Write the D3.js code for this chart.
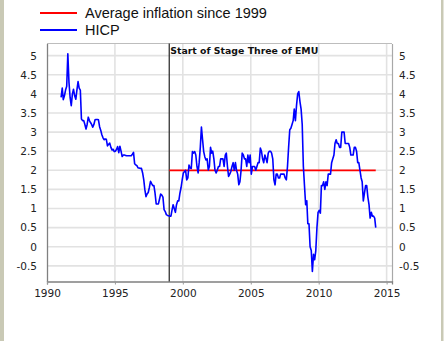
<!DOCTYPE html>
<html>
<head>
<meta charset="utf-8">
<script src="https://cdn.jsdelivr.net/npm/d3@7/dist/d3.min.js"></script>
<style>
  html, body { margin: 0; padding: 0; background: #fff; }
  svg { display: block; }
</style>
</head>
<body>
<svg id="chart" width="447" height="341"></svg>
<script>
// Euro area HICP, annual rate of change (%), monthly from January 1991
const hicpFirstMonth = [1991, 0];
const hicp = [
  // 1991
  3.91, 4.15, 3.85, 3.95, 4.10, 4.20, 5.05, 4.30, 3.90, 3.69, 4.00, 4.12,
  // 1992
  3.95, 3.86, 4.10, 4.32, 4.15, 4.10, 3.34, 3.30, 3.30, 3.20, 3.08, 3.20,
  // 1993
  3.39, 3.30, 3.25, 3.20, 3.13, 3.20, 3.32, 3.33, 3.33, 3.32, 3.14, 3.05,
  // 1994
  2.93, 2.85, 2.80, 2.82, 2.81, 2.64, 2.68, 2.71, 2.60, 2.53, 2.55, 2.49,
  // 1995
  2.50, 2.55, 2.62, 2.46, 2.63, 2.50, 2.36, 2.40, 2.40, 2.39, 2.38, 2.38,
  // 1996
  2.38, 2.38, 2.38, 2.42, 2.47, 2.17, 2.14, 2.12, 2.06, 2.06, 2.05, 2.05,
  // 1997
  1.93, 1.75, 1.50, 1.31, 1.38, 1.42, 1.55, 1.71, 1.65, 1.60, 1.60, 1.40,
  // 1998
  1.12, 1.12, 1.12, 1.25, 1.38, 1.35, 1.30, 0.97, 0.92, 0.84, 0.82, 0.81,
  // 1999
  0.80, 0.80, 0.95, 1.10, 1.00, 0.90, 1.10, 1.20, 1.20, 1.40, 1.55, 1.75,
  // 2000
  1.93, 1.97, 2.00, 1.75, 1.80, 2.14, 2.06, 2.05, 2.49, 2.45, 2.49, 2.40,
  // 2001
  2.10, 1.93, 2.20, 2.60, 3.13, 2.80, 2.49, 2.35, 2.27, 2.30, 2.01, 2.10,
  // 2002
  2.60, 2.45, 2.50, 2.30, 2.00, 1.93, 2.00, 2.10, 2.10, 2.30, 2.30, 2.30,
  // 2003
  2.10, 2.40, 2.45, 2.10, 1.84, 1.90, 1.97, 2.10, 2.20, 2.00, 2.20, 2.00,
  // 2004
  1.90, 1.62, 1.70, 2.00, 2.45, 2.40, 2.30, 2.30, 2.10, 2.40, 2.20, 2.40,
  // 2005
  1.90, 2.10, 2.10, 2.10, 2.00, 2.10, 2.20, 2.20, 2.58, 2.50, 2.30, 2.20,
  // 2006
  2.40, 2.30, 2.20, 2.45, 2.50, 2.50, 2.45, 2.30, 1.75, 1.62, 1.90, 1.90,
  // 2007
  1.80, 1.80, 1.90, 1.90, 1.90, 1.90, 1.80, 1.75, 2.10, 2.60, 3.06, 3.10,
  // 2008
  3.20, 3.30, 3.60, 3.30, 3.70, 4.00, 4.06, 3.80, 3.60, 3.20, 2.10, 1.60,
  // 2009
  1.10, 1.20, 0.60, 0.60, 0.00, -0.10, -0.65, -0.20, -0.34, -0.10, 0.50, 0.90,
  // 2010
  0.95, 0.88, 1.60, 1.60, 1.70, 1.50, 1.70, 1.60, 1.90, 1.90, 1.90, 2.20,
  // 2011
  2.30, 2.40, 2.70, 2.80, 2.70, 2.70, 2.60, 2.60, 3.00, 3.00, 3.00, 2.70,
  // 2012
  2.70, 2.70, 2.70, 2.60, 2.40, 2.40, 2.40, 2.60, 2.60, 2.50, 2.20, 2.20,
  // 2013
  2.00, 1.80, 1.70, 1.20, 1.40, 1.60, 1.60, 1.30, 1.10, 0.75, 0.90, 0.80,
  // 2014
  0.80, 0.75, 0.50
];

const averageSince1999 = 2.0;
const emuStartMonth = [1999, 0];
const emuLabel = "Start of Stage Three of EMU";
const legendLabels = ["Average inflation since 1999", "HICP"];
const legendColors = ["#ff0000", "#0000ff"];
const yTicks = [-0.5, 0, 0.5, 1, 1.5, 2, 2.5, 3, 3.5, 4, 4.5, 5];
const xTickYears = [1990, 1995, 2000, 2005, 2010, 2015];

const svg = d3.select("#chart");
const W = 447, H = 341;
const plot = { left: 47, right: 392, top: 43.5, bottom: 281.5 };

// page background and the thin side strips
svg.append("rect").attr("width", W).attr("height", H).attr("fill", "#fff");
svg.append("rect").attr("x", 0).attr("y", 0).attr("width", 4).attr("height", H).attr("fill", "#c9c9b5");
svg.append("rect").attr("x", 441).attr("y", 0).attr("width", 2.5).attr("height", H).attr("fill", "#c9c9b5");

const x = d3.scaleTime()
  .domain([new Date(1990, 0, 1), new Date(2015, 4, 26)])
  .range([plot.left, plot.right]);
const y = d3.scaleLinear()
  .domain([-0.91, 5.318])
  .range([plot.bottom, plot.top]);

const series = hicp.map((v, i) => ({
  date: new Date(hicpFirstMonth[0], hicpFirstMonth[1] + i, 15),
  value: v
}));
const lastDate = series[series.length - 1].date;
const emuDate = new Date(emuStartMonth[0], emuStartMonth[1], 1);

// gridlines
const grid = svg.append("g");
grid.selectAll("line.h").data(yTicks).join("line")
  .attr("x1", plot.left).attr("x2", plot.right)
  .attr("y1", d => y(d)).attr("y2", d => y(d))
  .attr("stroke", "#e2e2e2").attr("stroke-width", 1.6);
grid.selectAll("line.v").data(xTickYears.slice(1)).join("line")
  .attr("x1", d => x(new Date(d, 0, 1))).attr("x2", d => x(new Date(d, 0, 1)))
  .attr("y1", plot.top).attr("y2", plot.bottom)
  .attr("stroke", "#e2e2e2").attr("stroke-width", 1.6);

// frame
svg.append("line").attr("x1", plot.left).attr("x2", plot.right).attr("y1", plot.top).attr("y2", plot.top)
  .attr("stroke", "#bdbdbd").attr("stroke-width", 1.2);

// axes
const tickFont = "DejaVu Sans, Verdana, sans-serif";
const fmt = d => String(d);

const axL = svg.append("g").attr("transform", `translate(${plot.left},0)`)
  .call(d3.axisLeft(y).tickValues(yTicks).tickSize(0).tickPadding(10).tickFormat(fmt));
const axR = svg.append("g").attr("transform", `translate(${plot.right},0)`)
  .call(d3.axisRight(y).tickValues(yTicks).tickSize(0).tickPadding(7).tickFormat(fmt));
const axB = svg.append("g").attr("transform", `translate(0,${plot.bottom})`)
  .call(d3.axisBottom(x).tickValues(xTickYears.map(yr => new Date(yr, 0, 1)))
    .tickSize(3).tickPadding(5).tickFormat(d3.timeFormat("%Y")));

[axL, axR, axB].forEach(g => {
  g.selectAll("text").attr("font-family", tickFont).attr("font-size", 10.5).attr("fill", "#222");
  g.selectAll(".tick line").attr("stroke", "#999");
});
axL.select(".domain").attr("stroke", "#808080").attr("stroke-width", 1.3);
axR.select(".domain").attr("stroke", "#a8a8a8").attr("stroke-width", 1.2);
axB.select(".domain").attr("stroke", "#808080").attr("stroke-width", 1.3);

// Stage Three of EMU marker
svg.append("line")
  .attr("x1", x(emuDate)).attr("x2", x(emuDate))
  .attr("y1", plot.top).attr("y2", plot.bottom)
  .attr("stroke", "#333").attr("stroke-width", 1.3);
svg.append("text")
  .attr("x", x(emuDate) + 1).attr("y", 54)
  .attr("font-family", tickFont).attr("font-size", 9.5).attr("font-weight", "bold")
  .attr("fill", "#111")
  .attr("textLength", 148).attr("lengthAdjust", "spacingAndGlyphs")
  .text(emuLabel);

// average since 1999
svg.append("line")
  .attr("x1", x(emuDate)).attr("x2", x(lastDate))
  .attr("y1", y(averageSince1999)).attr("y2", y(averageSince1999))
  .attr("stroke", legendColors[0]).attr("stroke-width", 1.8);

// HICP series
svg.append("path")
  .datum(series)
  .attr("fill", "none")
  .attr("stroke", legendColors[1])
  .attr("stroke-width", 1.6)
  .attr("stroke-linejoin", "round")
  .attr("d", d3.line().x(d => x(d.date)).y(d => y(d.value)));

// legend
const legend = svg.append("g");
legendLabels.forEach((label, i) => {
  const ly = 13 + i * 17;
  legend.append("line")
    .attr("x1", 40).attr("x2", 77).attr("y1", ly).attr("y2", ly)
    .attr("stroke", legendColors[i]).attr("stroke-width", 2);
  legend.append("text")
    .attr("x", 85).attr("y", ly + 5.3)
    .attr("font-family", "Liberation Sans, Arial, sans-serif")
    .attr("font-size", 14.5).attr("fill", "#111")
    .text(label);
});
</script>
</body>
</html>
